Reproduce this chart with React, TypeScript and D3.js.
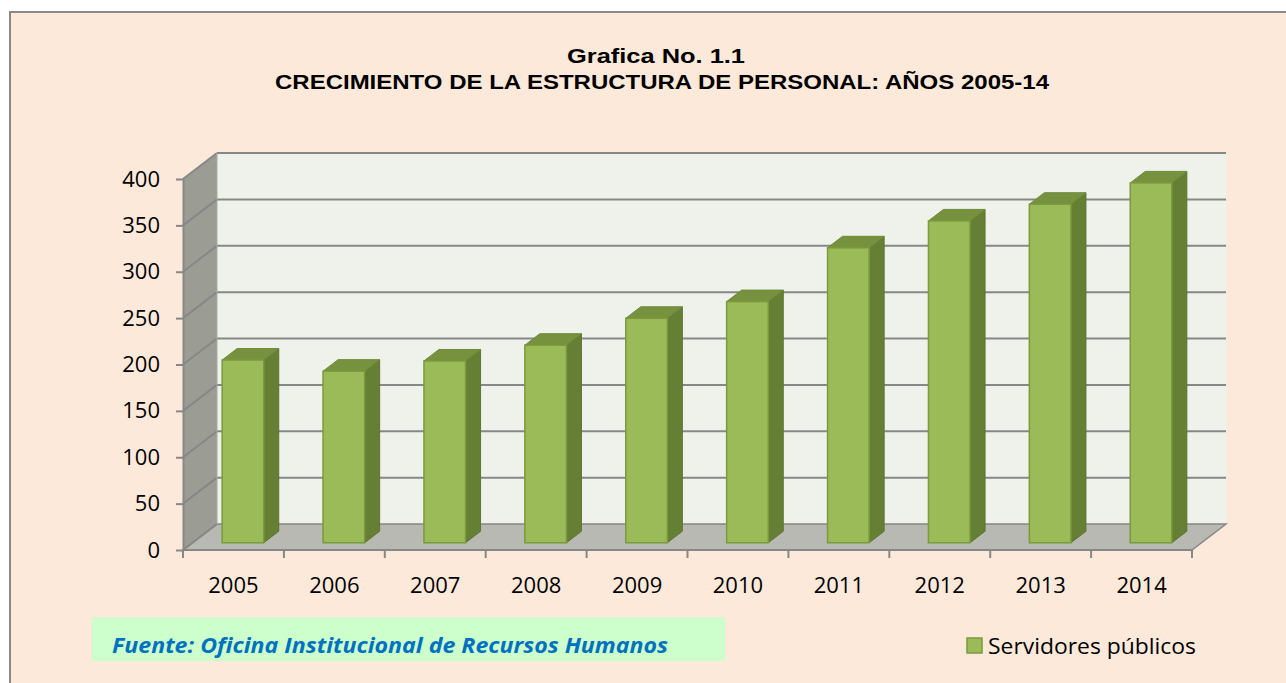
import React, { useEffect, useRef } from "react";
import * as d3 from "d3";

// values
const years = ["2005", "2006", "2007", "2008", "2009", "2010", "2011", "2012", "2013", "2014"];
const servidores = [197, 185, 196, 213, 242, 260, 318, 347, 365, 388];
const yTicks = [0, 50, 100, 150, 200, 250, 300, 350, 400];

const titleLine1 = "Grafica No. 1.1";
const titleLine2 = "CRECIMIENTO DE LA ESTRUCTURA DE PERSONAL: AÑOS 2005-14";
const sourceText = "Fuente: Oficina Institucional de Recursos Humanos";
const legendLabel = "Servidores públicos";

const W = 1286, H = 683;
const left = 183, right = 1192, bottom = 550, top = 179;
const depthX = 34, depthY = 26;     // floor / wall depth
const barW = 41.6, barDX = 15, barDY = 11.5;

const gridColor = "#878787";
const labelFont = "'Open Sans', 'Noto Sans', sans-serif";
const titleFont = "'Liberation Sans', Arial, sans-serif";

export default function App() {
  const yAxisRef = useRef<SVGGElement>(null);
  const xAxisRef = useRef<SVGGElement>(null);

  const x = d3.scaleBand<string>().domain(years).range([left, right]).padding(0);
  const y = d3.scaleLinear().domain([0, 400]).range([bottom, top]);

  useEffect(() => {
    const yAxis = d3.axisLeft(y).tickValues(yTicks).tickSize(7).tickSizeOuter(0).tickPadding(16);
    const gy = d3.select(yAxisRef.current!);
    gy.call(yAxis);
    gy.select(".domain").attr("stroke", gridColor).attr("stroke-width", 2);
    gy.selectAll(".tick line").attr("stroke", gridColor).attr("stroke-width", 2);
    gy.selectAll(".tick text").attr("font-size", 22).attr("font-family", labelFont).attr("fill", "#000");

    const xAxis = d3.axisBottom(x).tickSize(0).tickSizeOuter(0).tickPadding(27);
    const gx = d3.select(xAxisRef.current!);
    gx.call(xAxis);
    gx.select(".domain").remove();
    gx.selectAll(".tick text").attr("font-size", 22).attr("font-family", labelFont).attr("fill", "#000");
  }, []);

  const bw = x.bandwidth();
  const zx = (depthX - barDX) / 2, zy = (depthY - barDY) / 2;

  return (
    <svg width={W} height={H} style={{ position: "absolute", left: 0, top: 0, display: "block" }}>
      <rect x={0} y={0} width={W} height={H} fill="#fff" />
      <rect x={10} y={12} width={W} height={H} fill="#fde9d9" stroke="#8a8a8a" strokeWidth={2} />

      <text x={656} y={63} textAnchor="middle" fontFamily={titleFont} fontWeight="bold" fontSize={21} textLength={178} lengthAdjust="spacingAndGlyphs">{titleLine1}</text>
      <text x={662} y={89} textAnchor="middle" fontFamily={titleFont} fontWeight="bold" fontSize={21} textLength={774} lengthAdjust="spacingAndGlyphs">{titleLine2}</text>

      {/* walls */}
      <rect x={left + depthX} y={top - depthY} width={right - left} height={bottom - top} fill="#eff2eb" />
      <polygon points={`${left},${top} ${left + depthX},${top - depthY} ${left + depthX},${bottom - depthY} ${left},${bottom}`} fill="#9b9d95" />
      <polygon points={`${left},${bottom} ${left + depthX},${bottom - depthY} ${right + depthX},${bottom - depthY} ${right},${bottom}`} fill="#b7b9b2" stroke={gridColor} strokeWidth={1.5} />

      {/* gridlines */}
      {yTicks.map(t => (
        <g key={t}>
          <line x1={left} y1={y(t)} x2={left + depthX} y2={y(t) - depthY} stroke={gridColor} strokeWidth={2} />
          {t > 0 && <line x1={left + depthX} y1={y(t) - depthY} x2={right + depthX} y2={y(t) - depthY} stroke={gridColor} strokeWidth={2} />}
        </g>
      ))}
      <line x1={left + depthX} y1={top - depthY} x2={left + depthX} y2={bottom - depthY} stroke="#a8aaa3" strokeWidth={1} />

      {/* bars */}
      {years.map((yr, i) => {
        const fx = x(yr)! + bw / 2 - barW / 2 + zx;
        const fb = bottom - zy;
        const ft = y(servidores[i]) - zy;
        return (
          <g key={yr}>
            <polygon points={`${fx + barW},${ft} ${fx + barW + barDX},${ft - barDY} ${fx + barW + barDX},${fb - barDY} ${fx + barW},${fb}`} fill="#657f35" stroke="#5d762f" strokeWidth={1} />
            <polygon points={`${fx},${ft} ${fx + barDX},${ft - barDY} ${fx + barW + barDX},${ft - barDY} ${fx + barW},${ft}`} fill="#77923e" stroke="#6e8a38" strokeWidth={1} />
            <rect x={fx} y={ft} width={barW} height={fb - ft} fill="#9bbb59" stroke="#7a9a3d" strokeWidth={1.5} />
          </g>
        );
      })}

      {/* axes */}
      <g ref={yAxisRef} transform={`translate(${left},0)`} />
      <line x1={left} y1={bottom} x2={right} y2={bottom} stroke={gridColor} strokeWidth={2} />
      {years.concat([""]).map((yr, i) => (
        <line key={i} x1={left + i * bw} y1={bottom} x2={left + i * bw} y2={bottom + 8} stroke={gridColor} strokeWidth={2} />
      ))}
      <g ref={xAxisRef} transform={`translate(0,${bottom})`} />

      {/* source */}
      <rect x={92} y={617} width={633} height={44} fill="#ccffcc" />
      <text x={112} y={653} fontFamily={labelFont} fontStyle="italic" fontWeight="bold" fontSize={21} fill="#0070c0" textLength={556} lengthAdjust="spacingAndGlyphs">{sourceText}</text>

      {/* legend */}
      <rect x={967} y={638} width={15} height={15} fill="#9bbb59" stroke="#7a9a3d" strokeWidth={1.5} />
      <text x={988} y={654} fontFamily={labelFont} fontSize={22} fill="#000" textLength={208} lengthAdjust="spacingAndGlyphs">{legendLabel}</text>
    </svg>
  );
}
